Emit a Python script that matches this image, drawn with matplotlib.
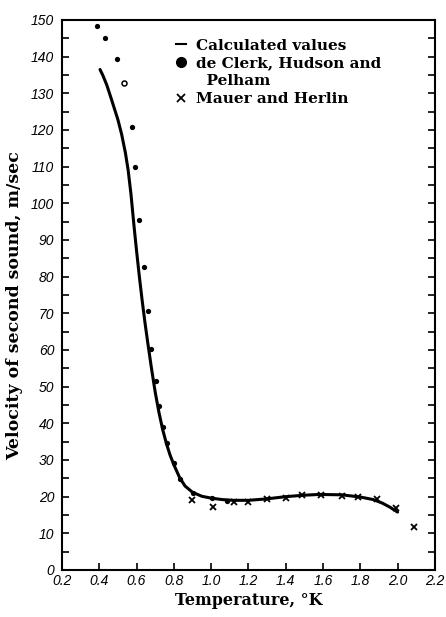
import matplotlib.pyplot as plt
from matplotlib.lines import Line2D
from matplotlib.ticker import MultipleLocator

# Calculated second-sound velocity curve
calc_T = [0.404, 0.42, 0.44, 0.46, 0.48, 0.50, 0.52, 0.54, 0.555, 0.57,
          0.585, 0.60, 0.615, 0.63, 0.645, 0.66, 0.68, 0.70, 0.72, 0.74,
          0.76, 0.78, 0.80, 0.83, 0.86, 0.90, 0.95, 1.00, 1.06, 1.12,
          1.20, 1.30, 1.40, 1.50, 1.58, 1.70, 1.80, 1.87, 1.92, 1.96, 2.00]
calc_v = [136.5, 134.8, 132.3, 129.2, 126.0, 122.8, 118.8, 113.8, 109.0, 102.5,
          94.5, 87.0, 80.0, 73.5, 67.5, 62.0, 55.0, 48.5, 43.0, 38.3,
          34.5, 31.3, 28.7, 25.3, 22.9, 21.2, 20.1, 19.6, 19.2, 19.0,
          19.0, 19.4, 20.0, 20.4, 20.6, 20.5, 19.9, 19.2, 18.2, 17.1, 15.8]

# de Clerk, Hudson and Pelham
dc_T = [0.389, 0.431, 0.497, 0.574, 0.591, 0.613, 0.638, 0.663, 0.677, 0.702,
        0.722, 0.740, 0.761, 0.800, 0.833, 0.901, 1.003, 1.083]
dc_v = [148.4, 145.2, 139.3, 120.7, 110.0, 95.4, 82.7, 70.7, 60.3, 51.5,
        44.7, 38.9, 34.7, 29.3, 24.7, 20.9, 19.5, 18.7]
# one point of that set is printed as an open circle
dc_open_T = [0.534]
dc_open_v = [132.7]

# Mauer and Herlin
mh_T = [0.90, 1.008, 1.12, 1.20, 1.30, 1.40, 1.49, 1.59, 1.70, 1.79, 1.89, 1.99, 2.09]
mh_v = [19.1, 17.3, 18.5, 18.6, 19.4, 19.7, 20.4, 20.5, 20.3, 19.8, 19.3, 17.0, 11.8]

x_ticks = [0.2, 0.4, 0.6, 0.8, 1.0, 1.2, 1.4, 1.6, 1.8, 2.0, 2.2]
x_labels = ["0.2", "0.4", "0.6", "0.8", "1.0", "1.2", "1.4", "1.6", "1.8", "2.0", "2.2"]
y_ticks = list(range(0, 151, 10))

serif_bold = dict(family="DejaVu Serif", weight="bold")
tick_font = dict(family="Liberation Sans", style="italic", size=10)

fig = plt.figure(figsize=(4.46, 6.17), dpi=100)
ax = fig.add_axes([0.139, 0.0762, 0.836, 0.8914])

ax.plot(calc_T, calc_v, color="black", lw=2.2, solid_capstyle="round")
ax.plot(dc_T, dc_v, "o", color="black", ms=3.8, mew=0)
ax.plot(dc_open_T, dc_open_v, "o", mfc="white", mec="black", ms=3.6, mew=1.1)
ax.plot(mh_T, mh_v, "x", color="black", ms=5, mew=1.3)

ax.set_xlim(0.2, 2.2)
ax.set_ylim(0, 150)
ax.set_xticks(x_ticks)
ax.set_xticklabels(x_labels, **tick_font)
ax.set_yticks(y_ticks)
ax.set_yticklabels([str(v) for v in y_ticks], **tick_font)
ax.yaxis.set_minor_locator(MultipleLocator(5))
ax.tick_params(axis="y", which="both", direction="in", length=5, width=1.2,
               right=True, pad=5.5)
ax.tick_params(axis="x", which="both", direction="in", length=5, width=1.2,
               top=False, pad=3)
for sp in ax.spines.values():
    sp.set_linewidth(1.5)

ax.set_xlabel("Temperature, °K", fontsize=11.5, labelpad=3, **serif_bold)
ax.set_ylabel("Velocity of second sound, m/sec", fontsize=12.5, **serif_bold)
ax.yaxis.set_label_coords(-0.105, 0.48)

handles = [
    Line2D([], [], color="black", lw=1.5),
    Line2D([], [], marker="o", ls="none", color="black", ms=7),
    Line2D([], [], ls="none"),
    Line2D([], [], marker="x", ls="none", color="black", ms=5.5, mew=1.3),
]
labels = ["Calculated values", "de Clerk, Hudson and", "  Pelham", "Mauer and Herlin"]
ax.legend(handles, labels, loc="upper left", bbox_to_anchor=(0.305, 0.966),
          frameon=False, handlelength=0.7, handletextpad=0.6, labelspacing=0.25,
          borderaxespad=0, borderpad=0,
          prop=dict(family="DejaVu Serif", weight="bold", size=11))

fig.savefig("out.png", dpi=100)
